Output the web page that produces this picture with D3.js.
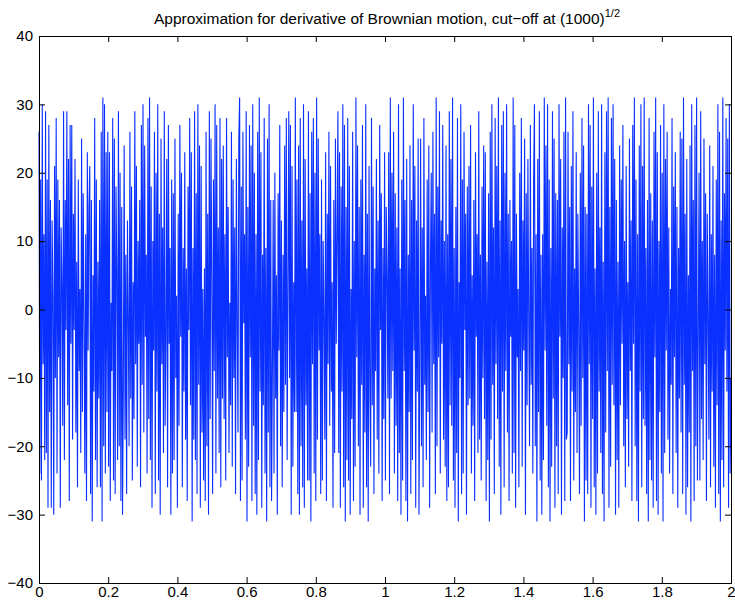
<!DOCTYPE html>
<html>
<head>
<meta charset="utf-8">
<script src="https://cdn.jsdelivr.net/npm/d3@7"></script>
<style>
  body { margin: 0; background: #fff; }
  svg { display: block; }
  text { font-family: "Liberation Sans", Arial, Helvetica, sans-serif; }
</style>
</head>
<body>
<svg width="735" height="602"></svg>
<script>
var tRange = [0, 2];
var xTicks = [0, 0.2, 0.4, 0.6, 0.8, 1, 1.2, 1.4, 1.6, 1.8, 2];
var yTicks = [-40, -30, -20, -10, 0, 10, 20, 30, 40];
var values = [
	26,-24,19,-25,30,-8,11,-22,29,-21,19,-29,27,-15,16,-29,13,2,-30,21,-10,
	28,-24,19,-7,16,-29,12,4,-17,29,-22,16,-3,29,-14,22,-28,27,-5,27,-19,
	14,-3,22,-18,7,-26,19,-9,3,-21,25,-15,17,-2,-24,11,-28,23,-6,15,
	21,-27,16,-31,5,-12,28,-22,19,-26,7,-13,16,-26,26,-31,31,-20,30,-24,
	23,-15,26,-23,23,-28,1,-9,28,-25,25,-27,18,6,-22,29,-20,20,-28,15,-30,
	-11,24,-19,8,-27,13,-1,-20,26,-13,18,-25,4,-16,29,-8,21,-23,10,-5,
	16,-26,27,-11,30,-18,24,-4,8,-24,28,-16,31,-22,18,-29,10,-6,26,-27,
	20,-12,30,-25,14,-30,25,-8,12,-21,29,-17,-4,22,-26,27,-5,9,-30,19,-24,
	17,-22,25,-10,2,-29,14,-17,27,-4,20,-26,9,-12,23,-19,6,-28,18,-3,
	28,-14,23,-31,9,-19,29,-22,17,-27,30,-11,24,-29,21,-18,3,-25,6,-28,
	26,-20,14,-30,29,-16,25,5,-27,19,-9,30,-24,27,-13,12,-21,28,-26,22,-13,
	24,-16,11,-25,28,-7,15,-21,1,-14,26,-23,19,-10,12,-27,22,-2,-18,25,
	31,-28,18,-25,26,-2,11,-19,29,-31,15,-23,27,-7,24,-28,30,-17,20,-27,
	11,-30,26,-22,31,-12,23,-29,8,-14,28,-24,9,-31,25,-18,30,-26,16,-28,
	-9,16,-24,20,-13,5,-30,17,-6,27,-20,13,-26,8,-15,24,-11,28,-22,3,
	29,-10,27,-30,21,-23,4,-15,31,-15,19,-27,24,-30,28,-20,13,-26,30,-29,
	22,-14,6,-25,29,-25,17,-31,26,-8,28,-24,20,-28,31,-19,25,-6,11,-27,
	19,-25,10,-1,-19,23,-28,14,-8,26,-17,21,-12,4,-29,16,-21,25,-5,11,
	29,-21,23,-29,18,-12,30,-26,27,-31,15,-22,28,-25,21,-30,3,-16,26,-28,
	10,-23,31,-7,24,-20,15,-30,19,-11,27,-29,8,-18,30,-26,14,-31,21,-12,
	-23,28,-14,18,-27,6,-9,22,-19,13,-24,27,-3,17,-28,9,-16,23,-25,15,
	5,-13,23,-27,31,-13,20,-9,26,-24,17,-17,12,-28,30,-21,6,-30,19,-25,
	31,-9,16,-28,22,-31,8,-15,24,-27,16,-22,30,-6,21,-29,13,-12,25,-30,
	-7,25,-20,12,-26,28,-11,2,-22,19,-15,24,-29,7,20,-18,26,-8,14,-27,
	31,-20,18,-7,29,-24,13,-5,27,-19,10,-23,24,-28,11,-26,29,-14,22,-17,
	31,-25,9,-29,15,-21,28,-31,4,-10,30,-27,19,-24,26,-3,14,-30,18,-14,
	21,-13,27,-24,5,-17,16,-28,23,-4,11,-21,29,-19,8,-25,18,-10,24,-16,
	23,-28,7,-22,17,-31,26,-19,30,-11,12,-27,28,-8,21,-16,31,-23,13,-30,
	27,-12,29,-26,20,-9,30,-18,14,-28,16,-4,10,-24,31,-21,27,-29,14,-7,
	3,-26,20,-9,28,-23,13,-6,25,-30,17,-14,22,-2,-20,27,-11,9,-24,19,
	30,-20,11,-31,22,-15,29,-25,8,-30,11,-22,31,-6,24,-17,30,-26,19,-31,
	9,-23,29,-13,25,-29,17,-20,16,-27,30,-4,22,-30,12,-10,26,-28,31,-19,
	-18,26,-8,15,-28,21,-12,29,-25,6,-15,23,-21,14,-3,-27,20,-17,28,-10,
	24,-31,15,-25,14,-27,30,-8,27,-29,18,-16,31,-26,6,-30,20,-24,29,-12,
	12,-21,30,-27,7,-31,23,-18,29,-9,31,-29,15,-23,28,-11,30,-14,22,-30,
	16,-22,7,-29,24,-14,19,-5,27,-20,10,-26,21,-16,4,-23,25,-9,13,-28,
	27,-5,31,-20,19,-28,11,-31,24,-12,30,-26,21,-16,31,-17,9,-27,16,-31,
	28,-22,17,-25,13,-29,26,-7,31,-28,23,-30,10,-15,27,-24,20,-31,30,-21,
	22,-6,26,-19,12,-24,3,-11,28,-27,18,-7,23,-21,15,-29,9,-13,26,-18,
	25,-27,31,-11,14,-30,22,-26,5,-18,24,-31,30,-9,16,-28,27,-20,31,-25,
	-4,20,-25,29,-16,10,-22,25,-8,17,-28,14,-1,-19,24,-26,11,-12,21,-23,
	8,-29,19,-14,30,-27,26,-31,13,-22,31,-26,17,-6,28,-12,25,-29,30,-24,-10
];

var svg = d3.select("svg"),
	width = +svg.attr("width"),
	height = +svg.attr("height");

var margin = { top: 36, right: 4, bottom: 19, left: 39 };
var w = width - margin.left - margin.right,
	h = height - margin.top - margin.bottom;

var x = d3.scaleLinear().domain(tRange).range([0, w]);
var y = d3.scaleLinear().domain([-40, 40]).range([h, 0]);

// sample index -> time
var step = (tRange[1] - tRange[0]) / (values.length - 1);

var g = svg.append("g")
	.attr("transform", "translate(" + margin.left + "," + margin.top + ")");

var line = d3.line()
	.x(function (d, i) { return x(tRange[0] + i * step); })
	.y(function (d) { return y(d); });

g.append("path")
	.datum(values)
	.attr("fill", "none")
	.attr("stroke", "#0a30ff")
	.attr("stroke-width", 1.1)
	.attr("stroke-linejoin", "miter")
	.attr("d", line);

var fmt = function (d) { return d3.format("")(d).replace("-", "\u2212"); };

// inward ticks on all four sides, like matlab box
g.append("g")
	.attr("transform", "translate(0," + h + ")")
	.call(d3.axisBottom(x).tickValues(xTicks).tickSize(-6).tickPadding(3).tickFormat(fmt));
g.append("g")
	.call(d3.axisTop(x).tickValues(xTicks).tickSize(-6).tickFormat(""));
g.append("g")
	.call(d3.axisLeft(y).tickValues(yTicks).tickSize(-6).tickPadding(6).tickFormat(fmt));
g.append("g")
	.attr("transform", "translate(" + w + ",0)")
	.call(d3.axisRight(y).tickValues(yTicks).tickSize(-6).tickFormat(""));

g.selectAll(".domain").attr("stroke", "#000").attr("stroke-width", 1);
g.selectAll(".tick line").attr("stroke", "#000");
g.selectAll(".tick text")
	.attr("fill", "#000")
	.style("font-size", "15px")
	.style("font-family", "'Liberation Sans', Arial, sans-serif");

var title = svg.append("text")
	.attr("x", 387)
	.attr("y", 24)
	.attr("text-anchor", "middle")
	.style("font-size", "15.5px")
	.attr("fill", "#000");
title.append("tspan").text("Approximation for derivative of Brownian motion, cut\u2212off at (1000)");
title.append("tspan").attr("dy", -7).style("font-size", "11px").text("1/2");
</script>
</body>
</html>
